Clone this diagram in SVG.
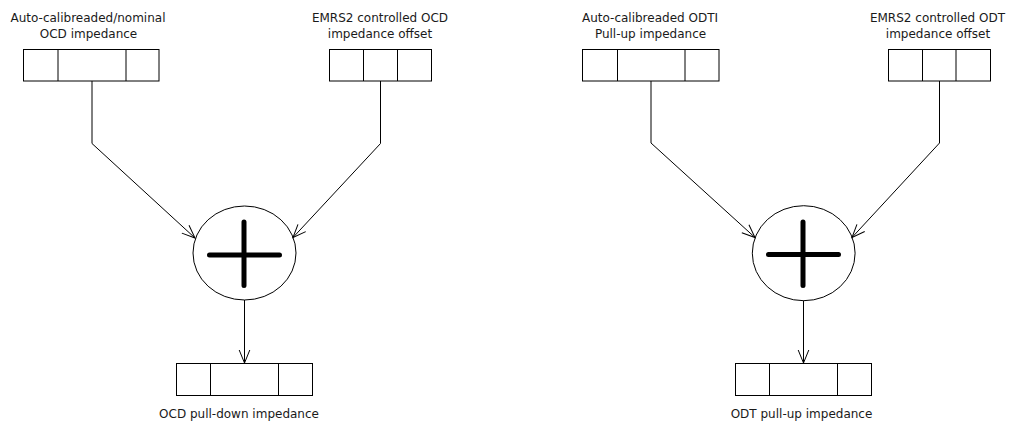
<svg xmlns="http://www.w3.org/2000/svg" width="1010" height="421" viewBox="0 0 1010 421">
  <style>
    .box { fill: #fff; stroke: #000; stroke-width: 1; }
    .div { stroke: #000; stroke-width: 1; fill: none; }
    .sum { fill: #fff; stroke: #000; stroke-width: 1; }
    .plus { stroke: #000; stroke-width: 5; stroke-linecap: round; fill: none; }
    .conn { stroke: #000; stroke-width: 1; fill: none; marker-end: url(#arrow); }
    text { font-family: "DejaVu Sans", "Liberation Sans", sans-serif; font-size: 12px; fill: #1a1a1a; text-anchor: middle; }
  </style>
  <defs>
    <marker id="arrow" markerUnits="userSpaceOnUse" viewBox="-14 -7 15 14" markerWidth="15" markerHeight="14" refX="0" refY="0" orient="auto" overflow="visible">
      <path d="M-13,-5.3 L0,0 L-13,5.3" fill="none" stroke="#000" stroke-width="1"/>
    </marker>
  </defs>
  <rect width="1010" height="421" fill="#fff"/>

  <!-- Left diagram -->
  <g id="ocd-nominal">
    <text x="88" y="22">Auto-calibreaded/nominal</text>
    <text x="88.5" y="37.5">OCD impedance</text>
    <rect class="box" x="23.5" y="49.5" width="135.5" height="31.5"/>
    <path class="div" d="M58 49.5 V81 M126 49.5 V81"/>
  </g>
  <g id="ocd-offset">
    <text x="380" y="22">EMRS2 controlled OCD</text>
    <text x="380" y="37.5">impedance offset</text>
    <rect class="box" x="329.5" y="49.5" width="102" height="31.5"/>
    <path class="div" d="M363.5 49.5 V81 M397.5 49.5 V81"/>
  </g>
  <g id="ocd-sum">
    <ellipse class="sum" cx="244.5" cy="253" rx="51.5" ry="47"/>
    <path class="plus" d="M209.5 255 H279.5 M244 222 V285.5"/>
  </g>
  <g id="ocd-result">
    <rect class="box" x="176.5" y="363.5" width="136" height="32"/>
    <path class="div" d="M210.5 363.5 V395.5 M278.5 363.5 V395.5"/>
    <text x="239" y="418">OCD pull-down impedance</text>
  </g>

  <!-- Right diagram -->
  <g id="odt-pullup">
    <text x="650" y="22">Auto-calibreaded ODTI</text>
    <text x="650.5" y="37.5">Pull-up impedance</text>
    <rect class="box" x="582.5" y="49.5" width="136.5" height="31.5"/>
    <path class="div" d="M617.5 49.5 V81 M685 49.5 V81"/>
  </g>
  <g id="odt-offset">
    <text x="937.5" y="22">EMRS2 controlled ODT</text>
    <text x="938" y="37.5">impedance offset</text>
    <rect class="box" x="888.5" y="49.5" width="102" height="31.5"/>
    <path class="div" d="M922.5 49.5 V81 M956 49.5 V81"/>
  </g>
  <g id="odt-sum">
    <ellipse class="sum" cx="803.7" cy="253.2" rx="51.4" ry="47.5"/>
    <path class="plus" d="M768.5 254.5 H838.5 M803 222 V285.5"/>
  </g>
  <g id="odt-result">
    <rect class="box" x="735.5" y="363.5" width="136" height="32"/>
    <path class="div" d="M769.5 363.5 V395.5 M837.5 363.5 V395.5"/>
    <text x="801.5" y="418">ODT pull-up impedance</text>
  </g>

  <!-- Connectors -->
  <g id="connectors">
    <path class="conn" d="M92 81 V143.5 L195 238"/>
    <path class="conn" d="M380.5 81 V143.5 L293 237.5"/>
    <path class="conn" d="M244.5 300 V363"/>
    <path class="conn" d="M651 81 V143 L755 237.5"/>
    <path class="conn" d="M939.5 81 V143 L852 237.5"/>
    <path class="conn" d="M803.5 300.7 V363"/>
  </g>
</svg>
